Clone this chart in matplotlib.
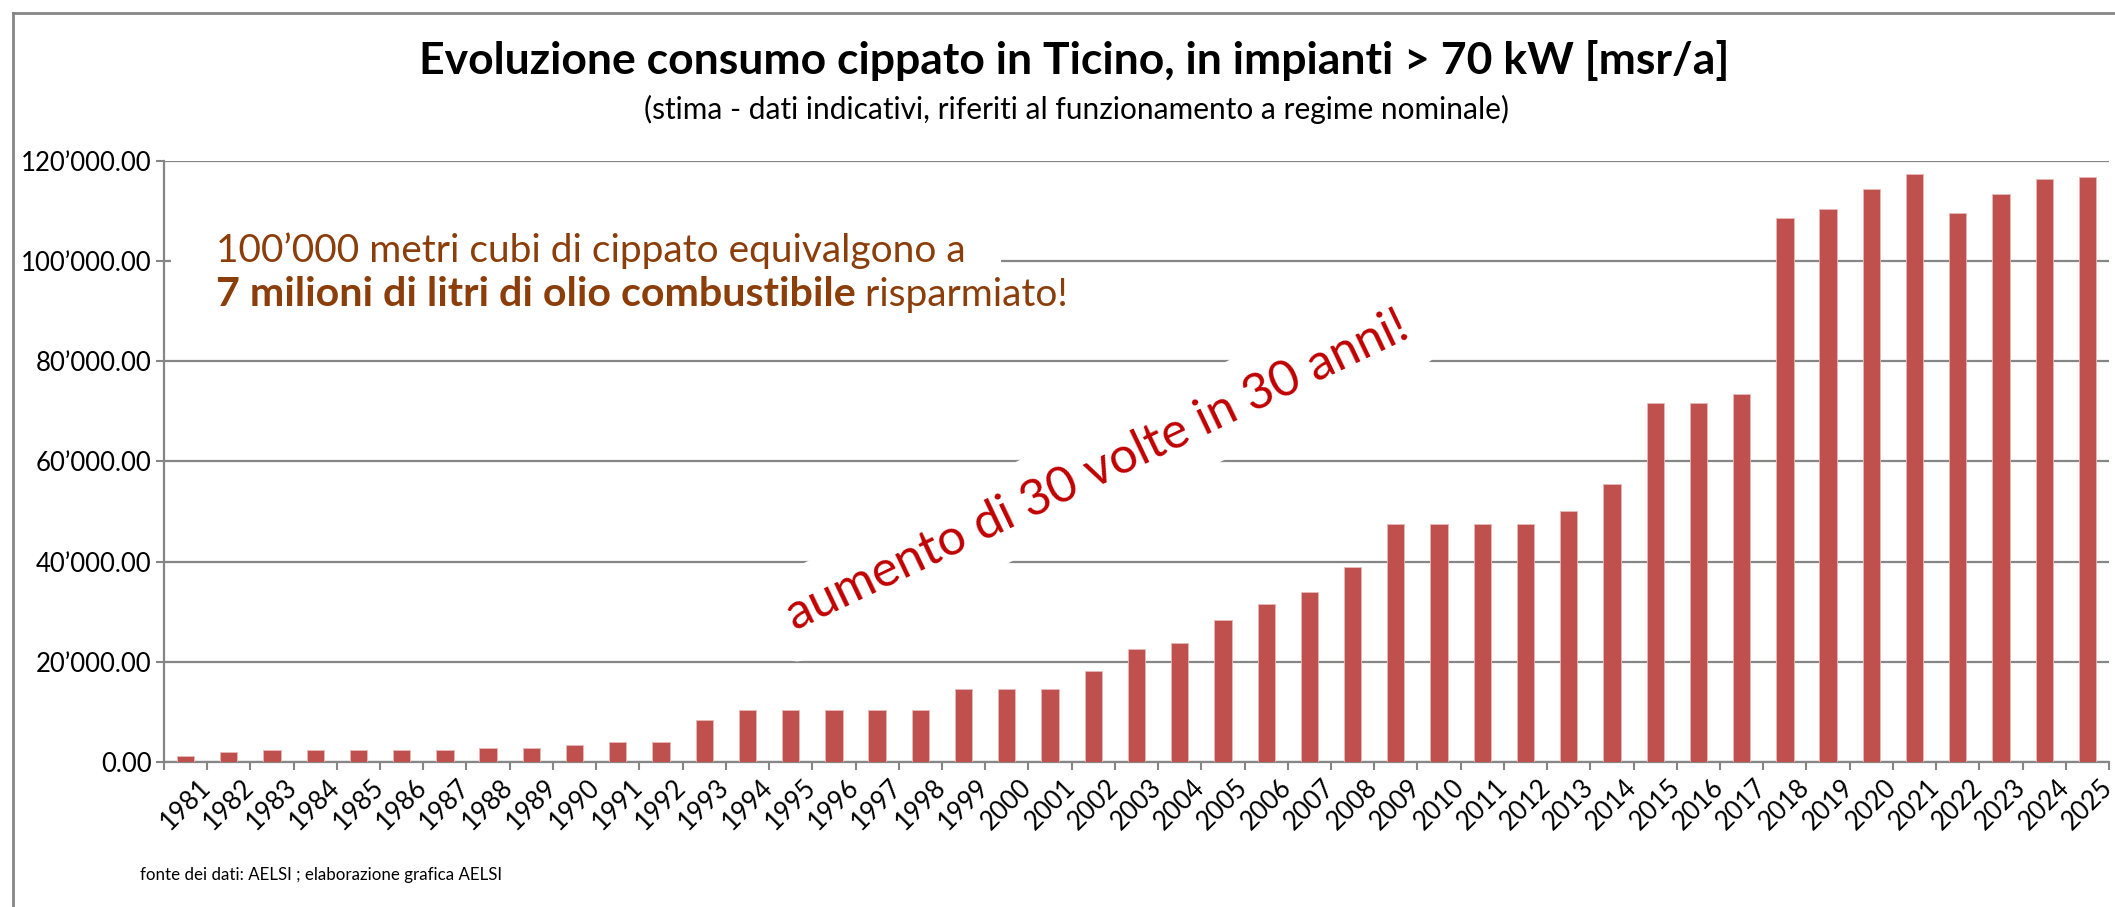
import matplotlib.pyplot as plt
from matplotlib.lines import Line2D
from matplotlib.patches import Rectangle
from matplotlib.text import Annotation
from matplotlib.transforms import ScaledTranslation

years = [str(y) for y in range(1981, 2026)]
values = [1200, 2000, 2300, 2300, 2300, 2300, 2300, 2850, 2850, 3300,
          4000, 4000, 8300, 10300, 10300, 10300, 10300, 10300, 14650, 14650,
          14650, 18250, 22550, 23800, 28400, 31500, 34000, 38900, 47600, 47600,
          47600, 47600, 50100, 55500, 71600, 71600, 73400, 108700, 110500, 114350,
          117450, 109550, 113400, 116450, 116750]
yticks = [0, 20000, 40000, 60000, 80000, 100000, 120000]

title = 'Evoluzione consumo cippato in Ticino, in impianti > 70 kW [msr/a]'
subtitle = '(stima - dati indicativi, riferiti al funzionamento a regime nominale)'
note1 = '100’000 metri cubi di cippato equivalgono a'
note2_bold = '7 milioni di litri di olio combustibile'
note2_rest = ' risparmiato!'
slogan = 'aumento di 30 volte in 30 anni!'
source = 'fonte dei dati: AELSI ; elaborazione grafica AELSI'

grey = '#868686'
bar_col = '#C0504D'
brown = '#8B3D0A'
red = '#C00000'

plt.rcParams['font.family'] = ['Lato', 'DejaVu Sans']

W, H = 2115, 907
fig = plt.figure(figsize=(W / 100, H / 100), dpi=100)
ax = fig.add_axes([0.0775, 0.1599, 0.9197, 0.6626])

x = list(range(len(years)))
ax.bar(x, values, width=0.4, color=bar_col, edgecolor='#E6B9B8',
       linewidth=0.6, zorder=3)

ax.set_xlim(-0.5, len(years) - 0.5)
ax.set_ylim(0, 120000)
ax.set_yticks(yticks)
ax.set_yticklabels([f'{v:,.2f}'.replace(',', '’') for v in yticks], fontsize=18.5)
ax.set_xticks(x)
ax.set_xticklabels(years, rotation=45, ha='center', va='top', fontsize=18.5)
shift = ScaledTranslation(5 / 100, 0, fig.dpi_scale_trans)
for lab in ax.get_xticklabels():
    lab.set_transform(lab.get_transform() + shift)
ax.set_xticks([i - 0.5 for i in range(len(years) + 1)], minor=True)
ax.tick_params(axis='x', which='major', length=0, pad=9)
ax.tick_params(axis='x', which='minor', length=6, width=1.5, color=grey)
ax.tick_params(axis='y', length=6, width=1.5, color=grey, pad=3)

ax.grid(axis='y', color=grey, linewidth=1.6, zorder=0)
ax.set_axisbelow(True)
for s in ['top', 'right']:
    ax.spines[s].set_visible(False)
for s in ['left', 'bottom']:
    ax.spines[s].set_color(grey)
    ax.spines[s].set_linewidth(1.6)

# titles
fig.text(0.508, 0.933, title, ha='center', va='center', fontsize=32,
         fontweight='bold')
fig.text(0.509, 0.879, subtitle, ha='center', va='center', fontsize=21.5)

# white box hiding the 100'000 gridline behind the note
fig.add_artist(Rectangle((171 / W, 1 - 284 / H), (1001 - 171) / W, 46 / H,
                         transform=fig.transFigure, facecolor='white',
                         edgecolor='none', zorder=4))
fig.text(0.102, 0.724, note1, ha='left', va='center', fontsize=28,
         color=brown, zorder=5)
t2 = fig.text(0.102, 0.675, note2_bold, ha='left', va='center', fontsize=29.7,
              color=brown, fontweight='bold', zorder=5)
fig.add_artist(Annotation(note2_rest, xy=(1, 0), xycoords=t2, fontsize=28,
                          color=brown, ha='left', va='bottom', zorder=5))

# slanted message
fig.text(0.519, 0.480, slogan, ha='center', va='center', rotation=25.5,
         fontsize=36, color=red, zorder=5,
         bbox=dict(boxstyle='round,pad=0.42', facecolor='white',
                   edgecolor='none'))

fig.text(0.066, 0.035, source, ha='left', va='center', fontsize=12.2)

# outer frame
fig.add_artist(Line2D([13 / W, 1], [1 - 13 / H, 1 - 13 / H],
                      transform=fig.transFigure, color=grey, linewidth=2))
fig.add_artist(Line2D([13 / W, 13 / W], [0, 1 - 13 / H],
                      transform=fig.transFigure, color=grey, linewidth=2))

fig.savefig('out.png', dpi=100)
